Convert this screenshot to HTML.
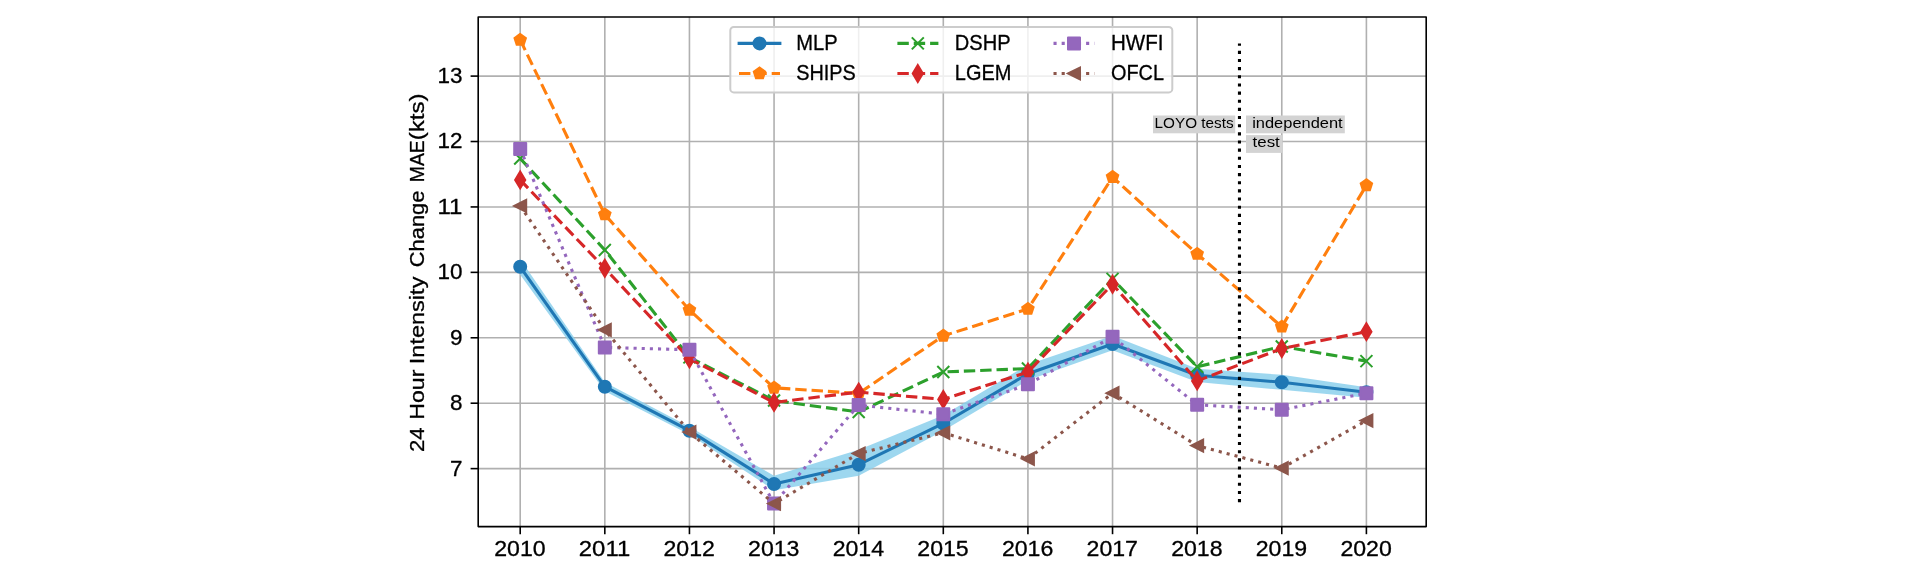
<!DOCTYPE html>
<html><head><meta charset="utf-8"><title>chart</title>
<style>html,body{margin:0;padding:0;background:#fff}body{width:1914px;height:569px;overflow:hidden}</style>
</head><body>
<svg width="1914" height="569" viewBox="0 0 1914 569" style="display:block;will-change:transform;stroke-linejoin:round;font-family:'Liberation Sans',sans-serif">
<rect width="1914" height="569" fill="#fff"/>
<clipPath id="ax"><rect x="478.2" y="17.05" width="948.0" height="509.55"/></clipPath>
<g clip-path="url(#ax)">
<line x1="520.20" x2="520.20" y1="17.05" y2="526.6" stroke="#b0b0b0" stroke-width="1.6"/>
<line x1="604.82" x2="604.82" y1="17.05" y2="526.6" stroke="#b0b0b0" stroke-width="1.6"/>
<line x1="689.44" x2="689.44" y1="17.05" y2="526.6" stroke="#b0b0b0" stroke-width="1.6"/>
<line x1="774.06" x2="774.06" y1="17.05" y2="526.6" stroke="#b0b0b0" stroke-width="1.6"/>
<line x1="858.68" x2="858.68" y1="17.05" y2="526.6" stroke="#b0b0b0" stroke-width="1.6"/>
<line x1="943.30" x2="943.30" y1="17.05" y2="526.6" stroke="#b0b0b0" stroke-width="1.6"/>
<line x1="1027.92" x2="1027.92" y1="17.05" y2="526.6" stroke="#b0b0b0" stroke-width="1.6"/>
<line x1="1112.54" x2="1112.54" y1="17.05" y2="526.6" stroke="#b0b0b0" stroke-width="1.6"/>
<line x1="1197.16" x2="1197.16" y1="17.05" y2="526.6" stroke="#b0b0b0" stroke-width="1.6"/>
<line x1="1281.78" x2="1281.78" y1="17.05" y2="526.6" stroke="#b0b0b0" stroke-width="1.6"/>
<line x1="1366.40" x2="1366.40" y1="17.05" y2="526.6" stroke="#b0b0b0" stroke-width="1.6"/>
<line x1="478.2" x2="1426.2" y1="468.62" y2="468.62" stroke="#b0b0b0" stroke-width="1.6"/>
<line x1="478.2" x2="1426.2" y1="403.20" y2="403.20" stroke="#b0b0b0" stroke-width="1.6"/>
<line x1="478.2" x2="1426.2" y1="337.78" y2="337.78" stroke="#b0b0b0" stroke-width="1.6"/>
<line x1="478.2" x2="1426.2" y1="272.36" y2="272.36" stroke="#b0b0b0" stroke-width="1.6"/>
<line x1="478.2" x2="1426.2" y1="206.94" y2="206.94" stroke="#b0b0b0" stroke-width="1.6"/>
<line x1="478.2" x2="1426.2" y1="141.52" y2="141.52" stroke="#b0b0b0" stroke-width="1.6"/>
<line x1="478.2" x2="1426.2" y1="76.10" y2="76.10" stroke="#b0b0b0" stroke-width="1.6"/>
<polygon points="520.20,258.95 604.82,382.13 689.44,426.75 774.06,475.82 858.68,449.65 943.30,415.30 1027.92,364.60 1112.54,335.82 1197.16,368.66 1281.78,374.74 1366.40,387.37 1366.40,397.64 1281.78,389.79 1197.16,382.07 1112.54,350.21 1027.92,380.30 943.30,430.68 858.68,475.82 774.06,490.21 689.44,434.60 604.82,391.29 520.20,274.65" fill="#87ceeb" fill-opacity="0.82"/>
<polyline points="520.20,266.80 604.82,386.71 689.44,430.68 774.06,483.99 858.68,464.69 943.30,423.48 1027.92,373.76 1112.54,343.99 1197.16,375.20 1281.78,382.27 1366.40,392.21" fill="none" stroke="#1f77b4" stroke-width="3.1" stroke-linejoin="round"/>
<circle cx="520.20" cy="266.80" r="6" fill="#1f77b4" stroke="#1f77b4" stroke-width="2"/>
<circle cx="604.82" cy="386.71" r="6" fill="#1f77b4" stroke="#1f77b4" stroke-width="2"/>
<circle cx="689.44" cy="430.68" r="6" fill="#1f77b4" stroke="#1f77b4" stroke-width="2"/>
<circle cx="774.06" cy="483.99" r="6" fill="#1f77b4" stroke="#1f77b4" stroke-width="2"/>
<circle cx="858.68" cy="464.69" r="6" fill="#1f77b4" stroke="#1f77b4" stroke-width="2"/>
<circle cx="943.30" cy="423.48" r="6" fill="#1f77b4" stroke="#1f77b4" stroke-width="2"/>
<circle cx="1027.92" cy="373.76" r="6" fill="#1f77b4" stroke="#1f77b4" stroke-width="2"/>
<circle cx="1112.54" cy="343.99" r="6" fill="#1f77b4" stroke="#1f77b4" stroke-width="2"/>
<circle cx="1197.16" cy="375.20" r="6" fill="#1f77b4" stroke="#1f77b4" stroke-width="2"/>
<circle cx="1281.78" cy="382.27" r="6" fill="#1f77b4" stroke="#1f77b4" stroke-width="2"/>
<circle cx="1366.40" cy="392.21" r="6" fill="#1f77b4" stroke="#1f77b4" stroke-width="2"/>
<polyline points="520.20,39.92 604.82,214.46 689.44,309.98 774.06,387.83 858.68,393.39 943.30,335.82 1027.92,309.00 1112.54,177.11 1197.16,253.98 1281.78,326.72 1366.40,185.35" fill="none" stroke="#ff7f0e" stroke-width="3.1" stroke-linejoin="round" stroke-dasharray="11.4 4.95"/>
<polygon points="520.20,33.92 514.49,38.07 516.67,44.78 523.73,44.78 525.91,38.07" fill="#ff7f0e" stroke="#ff7f0e" stroke-width="2" stroke-linejoin="miter"/>
<polygon points="604.82,208.46 599.11,212.61 601.29,219.32 608.35,219.32 610.53,212.61" fill="#ff7f0e" stroke="#ff7f0e" stroke-width="2" stroke-linejoin="miter"/>
<polygon points="689.44,303.98 683.73,308.12 685.91,314.83 692.97,314.83 695.15,308.12" fill="#ff7f0e" stroke="#ff7f0e" stroke-width="2" stroke-linejoin="miter"/>
<polygon points="774.06,381.83 768.35,385.97 770.53,392.68 777.59,392.68 779.77,385.97" fill="#ff7f0e" stroke="#ff7f0e" stroke-width="2" stroke-linejoin="miter"/>
<polygon points="858.68,387.39 852.97,391.53 855.15,398.24 862.21,398.24 864.39,391.53" fill="#ff7f0e" stroke="#ff7f0e" stroke-width="2" stroke-linejoin="miter"/>
<polygon points="943.30,329.82 937.59,333.96 939.77,340.67 946.83,340.67 949.01,333.96" fill="#ff7f0e" stroke="#ff7f0e" stroke-width="2" stroke-linejoin="miter"/>
<polygon points="1027.92,303.00 1022.21,307.14 1024.39,313.85 1031.45,313.85 1033.63,307.14" fill="#ff7f0e" stroke="#ff7f0e" stroke-width="2" stroke-linejoin="miter"/>
<polygon points="1112.54,171.11 1106.83,175.25 1109.01,181.96 1116.07,181.96 1118.25,175.25" fill="#ff7f0e" stroke="#ff7f0e" stroke-width="2" stroke-linejoin="miter"/>
<polygon points="1197.16,247.98 1191.45,252.12 1193.63,258.83 1200.69,258.83 1202.87,252.12" fill="#ff7f0e" stroke="#ff7f0e" stroke-width="2" stroke-linejoin="miter"/>
<polygon points="1281.78,320.72 1276.07,324.87 1278.25,331.58 1285.31,331.58 1287.49,324.87" fill="#ff7f0e" stroke="#ff7f0e" stroke-width="2" stroke-linejoin="miter"/>
<polygon points="1366.40,179.35 1360.69,183.50 1362.87,190.21 1369.93,190.21 1372.11,183.50" fill="#ff7f0e" stroke="#ff7f0e" stroke-width="2" stroke-linejoin="miter"/>
<polyline points="520.20,158.53 604.82,249.99 689.44,357.41 774.06,400.58 858.68,412.03 943.30,371.99 1027.92,368.53 1112.54,278.90 1197.16,366.83 1281.78,346.42 1366.40,361.13" fill="none" stroke="#2ca02c" stroke-width="3.1" stroke-linejoin="round" stroke-dasharray="11.4 4.95"/>
<path d="M514.20 152.53L526.20 164.53M514.20 164.53L526.20 152.53" stroke="#2ca02c" stroke-width="2" fill="none"/>
<path d="M598.82 243.99L610.82 255.99M598.82 255.99L610.82 243.99" stroke="#2ca02c" stroke-width="2" fill="none"/>
<path d="M683.44 351.41L695.44 363.41M683.44 363.41L695.44 351.41" stroke="#2ca02c" stroke-width="2" fill="none"/>
<path d="M768.06 394.58L780.06 406.58M768.06 406.58L780.06 394.58" stroke="#2ca02c" stroke-width="2" fill="none"/>
<path d="M852.68 406.03L864.68 418.03M852.68 418.03L864.68 406.03" stroke="#2ca02c" stroke-width="2" fill="none"/>
<path d="M937.30 365.99L949.30 377.99M937.30 377.99L949.30 365.99" stroke="#2ca02c" stroke-width="2" fill="none"/>
<path d="M1021.92 362.53L1033.92 374.53M1021.92 374.53L1033.92 362.53" stroke="#2ca02c" stroke-width="2" fill="none"/>
<path d="M1106.54 272.90L1118.54 284.90M1106.54 284.90L1118.54 272.90" stroke="#2ca02c" stroke-width="2" fill="none"/>
<path d="M1191.16 360.83L1203.16 372.83M1191.16 372.83L1203.16 360.83" stroke="#2ca02c" stroke-width="2" fill="none"/>
<path d="M1275.78 340.42L1287.78 352.42M1275.78 352.42L1287.78 340.42" stroke="#2ca02c" stroke-width="2" fill="none"/>
<path d="M1360.40 355.13L1372.40 367.13M1360.40 367.13L1372.40 355.13" stroke="#2ca02c" stroke-width="2" fill="none"/>
<polyline points="520.20,179.92 604.82,268.24 689.44,358.71 774.06,402.41 858.68,392.08 943.30,399.41 1027.92,372.06 1112.54,284.20 1197.16,380.89 1281.78,348.51 1366.40,331.63" fill="none" stroke="#d62728" stroke-width="3.1" stroke-linejoin="round" stroke-dasharray="11.4 4.95"/>
<polygon points="520.20,171.43 525.29,179.92 520.20,188.41 515.11,179.92" fill="#d62728" stroke="#d62728" stroke-width="2" stroke-linejoin="miter"/>
<polygon points="604.82,259.75 609.91,268.24 604.82,276.73 599.73,268.24" fill="#d62728" stroke="#d62728" stroke-width="2" stroke-linejoin="miter"/>
<polygon points="689.44,350.22 694.53,358.71 689.44,367.20 684.35,358.71" fill="#d62728" stroke="#d62728" stroke-width="2" stroke-linejoin="miter"/>
<polygon points="774.06,393.92 779.15,402.41 774.06,410.90 768.97,402.41" fill="#d62728" stroke="#d62728" stroke-width="2" stroke-linejoin="miter"/>
<polygon points="858.68,383.59 863.77,392.08 858.68,400.57 853.59,392.08" fill="#d62728" stroke="#d62728" stroke-width="2" stroke-linejoin="miter"/>
<polygon points="943.30,390.92 948.39,399.41 943.30,407.90 938.21,399.41" fill="#d62728" stroke="#d62728" stroke-width="2" stroke-linejoin="miter"/>
<polygon points="1027.92,363.57 1033.01,372.06 1027.92,380.55 1022.83,372.06" fill="#d62728" stroke="#d62728" stroke-width="2" stroke-linejoin="miter"/>
<polygon points="1112.54,275.71 1117.63,284.20 1112.54,292.69 1107.45,284.20" fill="#d62728" stroke="#d62728" stroke-width="2" stroke-linejoin="miter"/>
<polygon points="1197.16,372.40 1202.25,380.89 1197.16,389.38 1192.07,380.89" fill="#d62728" stroke="#d62728" stroke-width="2" stroke-linejoin="miter"/>
<polygon points="1281.78,340.02 1286.87,348.51 1281.78,357.00 1276.69,348.51" fill="#d62728" stroke="#d62728" stroke-width="2" stroke-linejoin="miter"/>
<polygon points="1366.40,323.14 1371.49,331.63 1366.40,340.12 1361.31,331.63" fill="#d62728" stroke="#d62728" stroke-width="2" stroke-linejoin="miter"/>
<polyline points="520.20,148.98 604.82,347.46 689.44,349.75 774.06,503.62 858.68,405.03 943.30,414.19 1027.92,384.36 1112.54,336.80 1197.16,404.77 1281.78,409.74 1366.40,393.19" fill="none" stroke="#9467bd" stroke-width="3.1" stroke-linejoin="round" stroke-dasharray="3.1 5.05"/>
<rect x="514.20" y="142.98" width="12" height="12" fill="#9467bd" stroke="#9467bd" stroke-width="2"/>
<rect x="598.82" y="341.46" width="12" height="12" fill="#9467bd" stroke="#9467bd" stroke-width="2"/>
<rect x="683.44" y="343.75" width="12" height="12" fill="#9467bd" stroke="#9467bd" stroke-width="2"/>
<rect x="768.06" y="497.62" width="12" height="12" fill="#9467bd" stroke="#9467bd" stroke-width="2"/>
<rect x="852.68" y="399.03" width="12" height="12" fill="#9467bd" stroke="#9467bd" stroke-width="2"/>
<rect x="937.30" y="408.19" width="12" height="12" fill="#9467bd" stroke="#9467bd" stroke-width="2"/>
<rect x="1021.92" y="378.36" width="12" height="12" fill="#9467bd" stroke="#9467bd" stroke-width="2"/>
<rect x="1106.54" y="330.80" width="12" height="12" fill="#9467bd" stroke="#9467bd" stroke-width="2"/>
<rect x="1191.16" y="398.77" width="12" height="12" fill="#9467bd" stroke="#9467bd" stroke-width="2"/>
<rect x="1275.78" y="403.74" width="12" height="12" fill="#9467bd" stroke="#9467bd" stroke-width="2"/>
<rect x="1360.40" y="387.19" width="12" height="12" fill="#9467bd" stroke="#9467bd" stroke-width="2"/>
<polyline points="520.20,205.96 604.82,329.80 689.44,432.12 774.06,503.62 858.68,453.51 943.30,432.77 1027.92,458.81 1112.54,393.19 1197.16,445.59 1281.78,468.10 1366.40,420.60" fill="none" stroke="#8c564b" stroke-width="3.1" stroke-linejoin="round" stroke-dasharray="3.1 5.05"/>
<polygon points="514.20,205.96 526.20,199.96 526.20,211.96" fill="#8c564b" stroke="#8c564b" stroke-width="2" stroke-linejoin="miter"/>
<polygon points="598.82,329.80 610.82,323.80 610.82,335.80" fill="#8c564b" stroke="#8c564b" stroke-width="2" stroke-linejoin="miter"/>
<polygon points="683.44,432.12 695.44,426.12 695.44,438.12" fill="#8c564b" stroke="#8c564b" stroke-width="2" stroke-linejoin="miter"/>
<polygon points="768.06,503.62 780.06,497.62 780.06,509.62" fill="#8c564b" stroke="#8c564b" stroke-width="2" stroke-linejoin="miter"/>
<polygon points="852.68,453.51 864.68,447.51 864.68,459.51" fill="#8c564b" stroke="#8c564b" stroke-width="2" stroke-linejoin="miter"/>
<polygon points="937.30,432.77 949.30,426.77 949.30,438.77" fill="#8c564b" stroke="#8c564b" stroke-width="2" stroke-linejoin="miter"/>
<polygon points="1021.92,458.81 1033.92,452.81 1033.92,464.81" fill="#8c564b" stroke="#8c564b" stroke-width="2" stroke-linejoin="miter"/>
<polygon points="1106.54,393.19 1118.54,387.19 1118.54,399.19" fill="#8c564b" stroke="#8c564b" stroke-width="2" stroke-linejoin="miter"/>
<polygon points="1191.16,445.59 1203.16,439.59 1203.16,451.59" fill="#8c564b" stroke="#8c564b" stroke-width="2" stroke-linejoin="miter"/>
<polygon points="1275.78,468.10 1287.78,462.10 1287.78,474.10" fill="#8c564b" stroke="#8c564b" stroke-width="2" stroke-linejoin="miter"/>
<polygon points="1360.40,420.60 1372.40,414.60 1372.40,426.60" fill="#8c564b" stroke="#8c564b" stroke-width="2" stroke-linejoin="miter"/>
<line x1="1239.47" x2="1239.47" y1="502.13" y2="43.39" stroke="#000" stroke-width="3.1" stroke-dasharray="3.1 5.05"/>
</g>
<g font-size="14.5px" fill="#000">
<rect x="1153" y="115.5" width="82.2" height="17.8" fill="#d3d3d3"/>
<text x="1154.6" y="127.9" textLength="79" lengthAdjust="spacingAndGlyphs">LOYO tests</text>
<rect x="1246" y="115.5" width="98.8" height="17.8" fill="#d3d3d3"/>
<text x="1252.2" y="127.9" textLength="90.5" lengthAdjust="spacingAndGlyphs">independent</text>
<rect x="1246" y="135.1" width="36.5" height="17.8" fill="#d3d3d3"/>
<text x="1252.6" y="147.4" textLength="27.2" lengthAdjust="spacingAndGlyphs">test</text>
</g>
<rect x="478.2" y="17.05" width="948.0" height="509.55" fill="none" stroke="#000" stroke-width="1.6"/>
<g font-size="21.2px" fill="#000" stroke="#000" stroke-width="0.3">
<line x1="520.20" x2="520.20" y1="526.6" y2="534.2" stroke="#000" stroke-width="1.6"/>
<text x="519.90" y="555.5" text-anchor="middle" textLength="51.4" lengthAdjust="spacingAndGlyphs">2010</text>
<line x1="604.82" x2="604.82" y1="526.6" y2="534.2" stroke="#000" stroke-width="1.6"/>
<text x="604.52" y="555.5" text-anchor="middle" textLength="51.4" lengthAdjust="spacingAndGlyphs">2011</text>
<line x1="689.44" x2="689.44" y1="526.6" y2="534.2" stroke="#000" stroke-width="1.6"/>
<text x="689.14" y="555.5" text-anchor="middle" textLength="51.4" lengthAdjust="spacingAndGlyphs">2012</text>
<line x1="774.06" x2="774.06" y1="526.6" y2="534.2" stroke="#000" stroke-width="1.6"/>
<text x="773.76" y="555.5" text-anchor="middle" textLength="51.4" lengthAdjust="spacingAndGlyphs">2013</text>
<line x1="858.68" x2="858.68" y1="526.6" y2="534.2" stroke="#000" stroke-width="1.6"/>
<text x="858.38" y="555.5" text-anchor="middle" textLength="51.4" lengthAdjust="spacingAndGlyphs">2014</text>
<line x1="943.30" x2="943.30" y1="526.6" y2="534.2" stroke="#000" stroke-width="1.6"/>
<text x="943.00" y="555.5" text-anchor="middle" textLength="51.4" lengthAdjust="spacingAndGlyphs">2015</text>
<line x1="1027.92" x2="1027.92" y1="526.6" y2="534.2" stroke="#000" stroke-width="1.6"/>
<text x="1027.62" y="555.5" text-anchor="middle" textLength="51.4" lengthAdjust="spacingAndGlyphs">2016</text>
<line x1="1112.54" x2="1112.54" y1="526.6" y2="534.2" stroke="#000" stroke-width="1.6"/>
<text x="1112.24" y="555.5" text-anchor="middle" textLength="51.4" lengthAdjust="spacingAndGlyphs">2017</text>
<line x1="1197.16" x2="1197.16" y1="526.6" y2="534.2" stroke="#000" stroke-width="1.6"/>
<text x="1196.86" y="555.5" text-anchor="middle" textLength="51.4" lengthAdjust="spacingAndGlyphs">2018</text>
<line x1="1281.78" x2="1281.78" y1="526.6" y2="534.2" stroke="#000" stroke-width="1.6"/>
<text x="1281.48" y="555.5" text-anchor="middle" textLength="51.4" lengthAdjust="spacingAndGlyphs">2019</text>
<line x1="1366.40" x2="1366.40" y1="526.6" y2="534.2" stroke="#000" stroke-width="1.6"/>
<text x="1366.10" y="555.5" text-anchor="middle" textLength="51.4" lengthAdjust="spacingAndGlyphs">2020</text>
<line x1="470.59999999999997" x2="478.2" y1="468.62" y2="468.62" stroke="#000" stroke-width="1.6"/>
<text x="462.5" y="475.52" text-anchor="end" textLength="12.5" lengthAdjust="spacingAndGlyphs">7</text>
<line x1="470.59999999999997" x2="478.2" y1="403.20" y2="403.20" stroke="#000" stroke-width="1.6"/>
<text x="462.5" y="410.10" text-anchor="end" textLength="12.5" lengthAdjust="spacingAndGlyphs">8</text>
<line x1="470.59999999999997" x2="478.2" y1="337.78" y2="337.78" stroke="#000" stroke-width="1.6"/>
<text x="462.5" y="344.68" text-anchor="end" textLength="12.5" lengthAdjust="spacingAndGlyphs">9</text>
<line x1="470.59999999999997" x2="478.2" y1="272.36" y2="272.36" stroke="#000" stroke-width="1.6"/>
<text x="462.5" y="279.26" text-anchor="end" textLength="25.0" lengthAdjust="spacingAndGlyphs">10</text>
<line x1="470.59999999999997" x2="478.2" y1="206.94" y2="206.94" stroke="#000" stroke-width="1.6"/>
<text x="462.5" y="213.84" text-anchor="end" textLength="25.0" lengthAdjust="spacingAndGlyphs">11</text>
<line x1="470.59999999999997" x2="478.2" y1="141.52" y2="141.52" stroke="#000" stroke-width="1.6"/>
<text x="462.5" y="148.42" text-anchor="end" textLength="25.0" lengthAdjust="spacingAndGlyphs">12</text>
<line x1="470.59999999999997" x2="478.2" y1="76.10" y2="76.10" stroke="#000" stroke-width="1.6"/>
<text x="462.5" y="83.00" text-anchor="end" textLength="25.0" lengthAdjust="spacingAndGlyphs">13</text>
<text font-size="21px" transform="translate(424.3,452.00) rotate(-90)" textLength="24.60" lengthAdjust="spacingAndGlyphs">24</text>
<text font-size="21px" transform="translate(424.3,419.80) rotate(-90)" textLength="50.20" lengthAdjust="spacingAndGlyphs">Hour</text>
<text font-size="21px" transform="translate(424.3,364.20) rotate(-90)" textLength="87.60" lengthAdjust="spacingAndGlyphs">Intensity</text>
<text font-size="21px" transform="translate(424.3,267.20) rotate(-90)" textLength="76.60" lengthAdjust="spacingAndGlyphs">Change</text>
<text font-size="21px" transform="translate(424.3,182.20) rotate(-90)" textLength="42.00" lengthAdjust="spacingAndGlyphs">MAE</text>
<text font-size="21px" transform="translate(424.3,140.20) rotate(-90)" textLength="46.80" lengthAdjust="spacingAndGlyphs">(kts)</text>
</g>
<rect x="730.3" y="27" width="442" height="65.4" rx="3.5" ry="3.5" fill="#fff" fill-opacity="0.8" stroke="#cccccc" stroke-width="2"/>
<g font-size="21.2px" fill="#000" stroke="#000" stroke-width="0.3">
<line x1="737.6" x2="781.4" y1="43.4" y2="43.4" stroke="#1f77b4" stroke-width="3.1"/>
<circle cx="759.50" cy="43.40" r="6" fill="#1f77b4" stroke="#1f77b4" stroke-width="2"/>
<text x="796.2" y="50.3" textLength="41.4" lengthAdjust="spacingAndGlyphs">MLP</text>
<line x1="739" x2="780" y1="73.5" y2="73.5" stroke="#ff7f0e" stroke-width="3.1" stroke-dasharray="11.4 4.95"/>
<polygon points="759.50,67.50 753.79,71.65 755.97,78.35 763.03,78.35 765.21,71.65" fill="#ff7f0e" stroke="#ff7f0e" stroke-width="2" stroke-linejoin="miter"/>
<text x="796.2" y="80.3" textLength="59.7" lengthAdjust="spacingAndGlyphs">SHIPS</text>
<line x1="897.4" x2="938.4" y1="43.4" y2="43.4" stroke="#2ca02c" stroke-width="3.1" stroke-dasharray="11.4 4.95"/>
<path d="M911.80 37.40L923.80 49.40M911.80 49.40L923.80 37.40" stroke="#2ca02c" stroke-width="2" fill="none"/>
<text x="954.8" y="50.3" textLength="55.9" lengthAdjust="spacingAndGlyphs">DSHP</text>
<line x1="897.4" x2="938.4" y1="73.5" y2="73.5" stroke="#d62728" stroke-width="3.1" stroke-dasharray="11.4 4.95"/>
<polygon points="917.80,65.01 922.89,73.50 917.80,81.99 912.71,73.50" fill="#d62728" stroke="#d62728" stroke-width="2" stroke-linejoin="miter"/>
<text x="954.8" y="80.3" textLength="56.6" lengthAdjust="spacingAndGlyphs">LGEM</text>
<line x1="1053.5" x2="1094.5" y1="43.4" y2="43.4" stroke="#9467bd" stroke-width="3.1" stroke-dasharray="3.1 5.05"/>
<rect x="1068.00" y="37.40" width="12" height="12" fill="#9467bd" stroke="#9467bd" stroke-width="2"/>
<text x="1111.0" y="50.3" textLength="52.5" lengthAdjust="spacingAndGlyphs">HWFI</text>
<line x1="1053.5" x2="1094.5" y1="73.5" y2="73.5" stroke="#8c564b" stroke-width="3.1" stroke-dasharray="3.1 5.05"/>
<polygon points="1068.00,73.50 1080.00,67.50 1080.00,79.50" fill="#8c564b" stroke="#8c564b" stroke-width="2" stroke-linejoin="miter"/>
<text x="1111.0" y="80.3" textLength="53.0" lengthAdjust="spacingAndGlyphs">OFCL</text>
</g>
</svg>
</body></html>
